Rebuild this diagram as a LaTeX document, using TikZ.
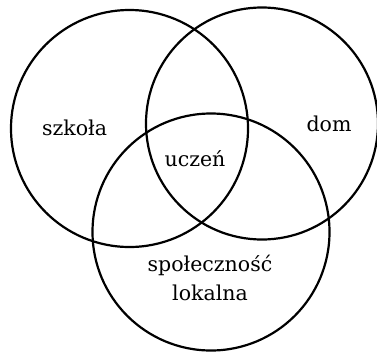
\documentclass[tikz,border=0pt]{standalone}
\usepackage{fontspec}
\setmainfont{DejaVu Serif}
\begin{document}
\begin{tikzpicture}[x=1pt,y=-1pt,
  ring/.style={draw=black,line width=2.2pt},
  lbl/.style={font=\fontsize{20.5}{29}\selectfont,text=black,align=center}]
\useasboundingbox (0,0) rectangle (377,351);
\draw[ring] (129.5,128.5) circle[radius=118.5];
\draw[ring] (262,123.5) circle[radius=116];
\draw[ring] (211,232) circle[radius=118.5];
\node[lbl] (szkola) at (74.5,128) {szkoła};
\node[lbl] (dom) at (329,124) {dom};
\node[lbl] (uczen) at (195,159) {uczeń};
\node[lbl] (spol) at (210,278) {społeczność\\lokalna};
\end{tikzpicture}
\end{document}
